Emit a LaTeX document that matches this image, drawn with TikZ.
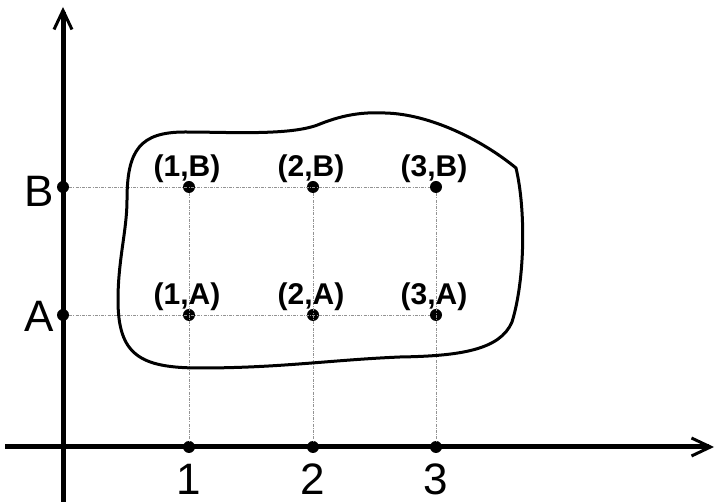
\documentclass[tikz,border=0pt]{standalone}
\usepackage{fontspec}
\setmainfont{Liberation Sans}
\usetikzlibrary{arrows.meta,positioning}

\begin{document}
\begin{tikzpicture}[x=1pt,y=-1pt,
 axis/.style={line width=5pt,-{Straight Barb[length=19pt,width=18pt,line width=3pt]}},
 grid/.style={line width=0.9pt,gray!85,dash pattern=on 3pt off 1.2pt on 1pt off 1.2pt},
 dot/.style={circle,fill=black,inner sep=0pt,minimum size=12pt},
 pair/.style={font=\fontsize{30}{32}\selectfont\bfseries,inner sep=0pt,anchor=base},
 tick/.style={font=\fontsize{44}{46}\selectfont,inner sep=0pt,anchor=base}]
\useasboundingbox (0,0) rectangle (716,502);
% axes end points
\coordinate (xs) at (5,447);\coordinate (xe) at (714,447);
\coordinate (ys) at (63,502);\coordinate (ye) at (63,7);
% dots on the axes
\node[dot] (x1) at (189,447) {};\node[dot] (x2) at (313,447) {};\node[dot] (x3) at (436,447) {};
\node[dot] (yA) at (63,315) {};\node[dot] (yB) at (63,187) {};
% dots of the product
\node[dot] (p1A) at (189,315) {};\node[dot] (p2A) at (313,315) {};\node[dot] (p3A) at (436,315) {};
\node[dot] (p1B) at (189,187) {};\node[dot] (p2B) at (313,187) {};\node[dot] (p3B) at (436,187) {};
% dotted guides
\draw[grid] (yA)--(p3A);\draw[grid] (yB)--(p3B);
\draw[grid] (p1B)--(x1);\draw[grid] (p2B)--(x2);\draw[grid] (p3B)--(x3);
% the set
\draw[line width=3pt] (127,200) .. controls (127,150) and (140,132) .. (185,132)
 .. controls (230,132) and (292,136) .. (320,124)
 .. controls (345,114) and (365,112) .. (385,113)
 .. controls (430,114) and (482,140) .. (516,168)
 .. controls (526,210) and (525,280) .. (512,322)
 .. controls (500,350) and (460,356) .. (400,357)
 .. controls (330,360) and (280,368) .. (200,368)
 .. controls (140,368) and (118,355) .. (118,300)
 .. controls (118,260) and (127,230) .. (127,200) -- cycle;
\draw[axis] (xs)--(xe);\draw[axis] (ys)--(ye);
% labels
\node[pair] (l1B) at (187,177) {(1,B)};\node[pair] (l2B) at (311,177) {(2,B)};\node[pair] (l3B) at (434,177) {(3,B)};
\node[pair] (l1A) at (187,305) {(1,A)};\node[pair] (l2A) at (311,305) {(2,A)};\node[pair] (l3A) at (434,305) {(3,A)};
\node[tick] (t1) at (189,495) {1};\node[tick] (t2) at (313,495) {2};\node[tick] (t3) at (436,495) {3};
\node[tick] (tA) at (39,332) {A};\node[tick] (tB) at (39,207) {B};
\end{tikzpicture}
\end{document}
